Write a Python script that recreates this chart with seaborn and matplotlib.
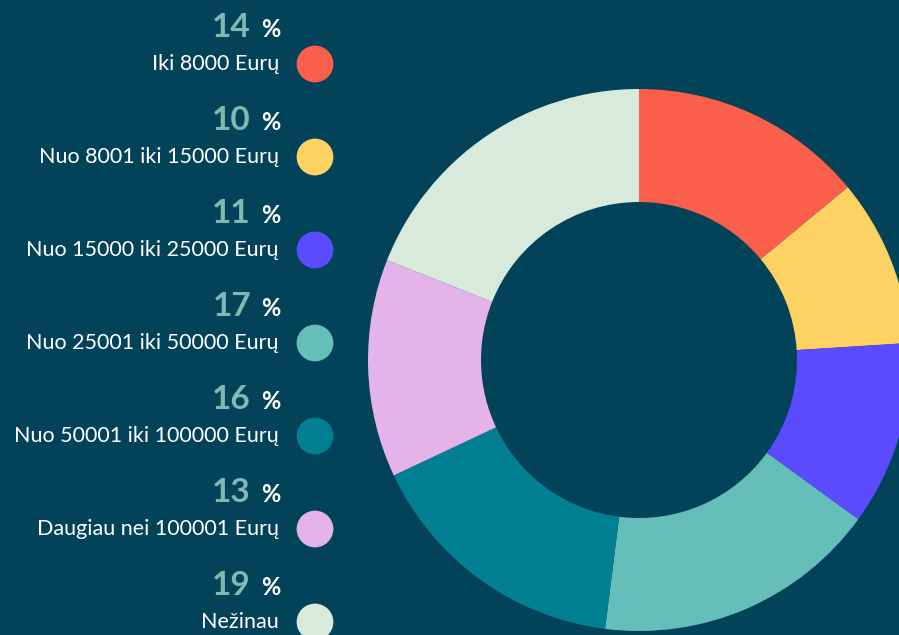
import matplotlib
matplotlib.use("Agg")
import matplotlib.pyplot as plt
import seaborn as sns

# Data
labels = [
    "Iki 8000 Eurų",
    "Nuo 8001 iki 15000 Eurų",
    "Nuo 15000 iki 25000 Eurų",
    "Nuo 25001 iki 50000 Eurų",
    "Nuo 50001 iki 100000 Eurų",
    "Daugiau nei 100001 Eurų",
    "Nežinau",
]
shares = [14, 10, 11, 17, 16, 13, 19]
colors = ["#F95F4B", "#FDD263", "#5B4BFF", "#66BEBB", "#037F94", "#E4B3E9", "#D8EADC"]

bg = "#03435A"
num_color = "#7FB8B5"

sns.set_theme(style="white")
plt.rcParams["font.family"] = ["Lato", "DejaVu Sans"]

W, H = 899, 635
fig = plt.figure(figsize=(W / 100, H / 100), dpi=100, facecolor=bg)
ax = fig.add_axes([0, 0, 1, 1])
ax.set_facecolor(bg)

# donut (pixel-like data coords, y measured from the bottom)
cx, cy = 639, H - 360
r_out, r_in = 271, 158
ax.pie(shares, colors=colors, startangle=90, counterclock=False,
       center=(cx, cy), radius=r_out, frame=True,
       wedgeprops=dict(width=r_out - r_in, linewidth=0))

# legend column on the left
y0, step = 64, 93
dot_y = [H - (y0 + step * i) for i in range(len(labels))]
sns.scatterplot(x=[315] * len(labels), y=dot_y, hue=labels, palette=colors,
                s=700, linewidth=0, legend=False, ax=ax, zorder=5)

for lab, val, y in zip(labels, shares, dot_y):
    ax.text(251, y + 27, str(val), ha="right", va="baseline",
            fontsize=24, fontweight="bold", color=num_color)
    ax.text(261, y + 27, "%", ha="left", va="baseline",
            fontsize=17, fontweight="bold", color="white")
    ax.text(279, y - 6, lab, ha="right", va="baseline",
            fontsize=15.5, color="white")

ax.set_xlim(0, W)
ax.set_ylim(0, H)
ax.set_aspect("auto")
ax.axis("off")

fig.savefig("out.png", dpi=100, facecolor=bg)
